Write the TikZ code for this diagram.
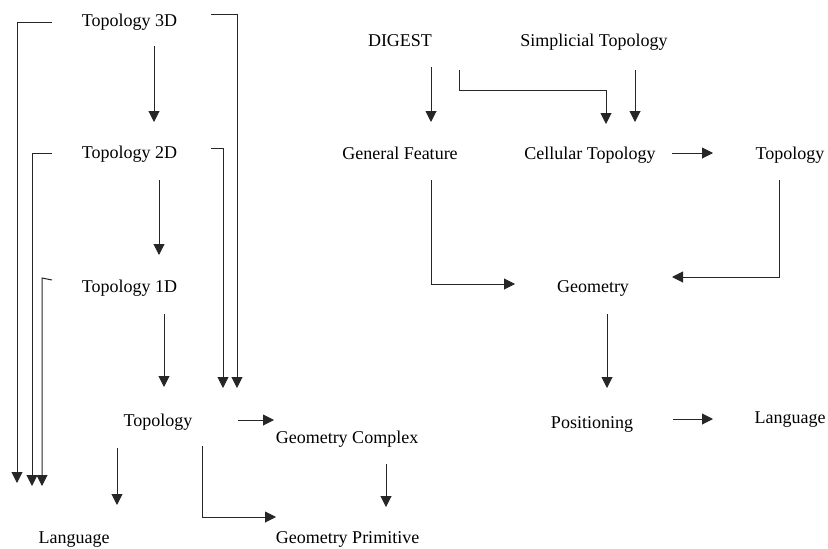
\documentclass[tikz,border=0pt]{standalone}
\usepackage{fontspec}
\setmainfont{Liberation Serif}
\usetikzlibrary{arrows.meta}

\def\dgmFontSize{18}
\def\dgmTipLen{11pt}
\def\dgmTipWid{11pt}

\begin{document}
\begin{tikzpicture}
    [x = 1pt, y = -1pt,
     lbl/.style = {anchor = base, inner sep = 0pt,
                   font = \fontsize{\dgmFontSize}{21}\selectfont},
     arr/.style = {draw = black!85, line width = 1pt,
                   -{Triangle[length = \dgmTipLen, width = \dgmTipWid]}},
    ]
            \useasboundingbox (0,0) rectangle (828,549);
            %% left column
            \node [lbl] (t3d) at (129.5,26) {Topology 3D};
            \node [lbl] (t2d) at (129.5,158) {Topology 2D};
            \node [lbl] (t1d) at (129.5,292) {Topology 1D};
            \node [lbl] (topo) at (158,426) {Topology};
            \node [lbl] (lang) at (74,543) {Language};
            \node [lbl] (gcomplex) at (347,443) {Geometry Complex};
            \node [lbl] (gprim) at (347.5,543) {Geometry Primitive};
            %% right column
            \node [lbl] (digest) at (400,46) {DIGEST};
            \node [lbl] (simp) at (594,46) {Simplicial Topology};
            \node [lbl] (genfeat) at (400,159) {General Feature};
            \node [lbl] (cellular) at (590,159) {Cellular Topology};
            \node [lbl] (topoR) at (790,159) {Topology};
            \node [lbl] (geom) at (593,292) {Geometry};
            \node [lbl] (posit) at (592,428) {Positioning};
            \node [lbl] (langR) at (790,423) {Language};

            %% topology chain
            \draw [arr] ([shift={(24.5,20)}]t3d.base) -- ([shift={(24.5,-36)}]t2d.base);
            \draw [arr] ([shift={(29.5,22)}]t2d.base) -- ([shift={(29.5,-37)}]t1d.base);
            \draw [arr] ([shift={(34.5,22)}]t1d.base) -- ([shift={(6,-39)}]topo.base);
            %% brackets on the left
            \draw [arr] ([shift={(-77.5,-4)}]t3d.base) -| ([shift={(-57,-60)}]lang.base);
            \draw [arr] ([shift={(-77.5,-5)}]t2d.base) -| ([shift={(-42,-57)}]lang.base);
            \draw [arr] ([shift={(-77.5,-12)}]t1d.base) -- ++(-10,-2)
            -- ([shift={(-32,-57)}]lang.base);
            %% brackets on the right
            \draw [arr] ([shift={(81.5,-12)}]t3d.base) -| ([shift={(79,-38)}]topo.base);
            \draw [arr] ([shift={(81.5,-10)}]t2d.base) -| ([shift={(65,-38)}]topo.base);
            %% below topology
            \draw [arr] ([shift={(-41,22)}]topo.base) -- ([shift={(43,-38)}]lang.base);
            \draw [arr] ([shift={(80,-6)}]topo.base) -- ([shift={(-73,-23)}]gcomplex.base);
            \draw [arr] ([shift={(44,20)}]topo.base) |- ([shift={(-71.5,-26)}]gprim.base);
            \draw [arr] ([shift={(39,21)}]gcomplex.base) -- ([shift={(38.5,-36)}]gprim.base);

            %% digest part
            \draw [arr] ([shift={(31,21)}]digest.base) -- ([shift={(31,-37)}]genfeat.base);
            \draw [arr] ([shift={(59,24)}]digest.base) -- ++(0,20)
            -| ([shift={(16,-35)}]cellular.base);
            \draw [arr] ([shift={(41,24)}]simp.base) -- ([shift={(45,-37)}]cellular.base);
            \draw [arr] ([shift={(82,-6)}]cellular.base) -- ([shift={(-77,-6)}]topoR.base);
            \draw [arr] ([shift={(31,21)}]genfeat.base) |- ([shift={(-78,-8)}]geom.base);
            \draw [arr] ([shift={(-11,21)}]topoR.base) |- ([shift={(79,-15)}]geom.base);
            \draw [arr] ([shift={(14,22)}]geom.base) -- ([shift={(15,-40)}]posit.base);
            \draw [arr] ([shift={(81,-9)}]posit.base) -- ([shift={(-77,-4)}]langR.base);
\end{tikzpicture}
\end{document}
